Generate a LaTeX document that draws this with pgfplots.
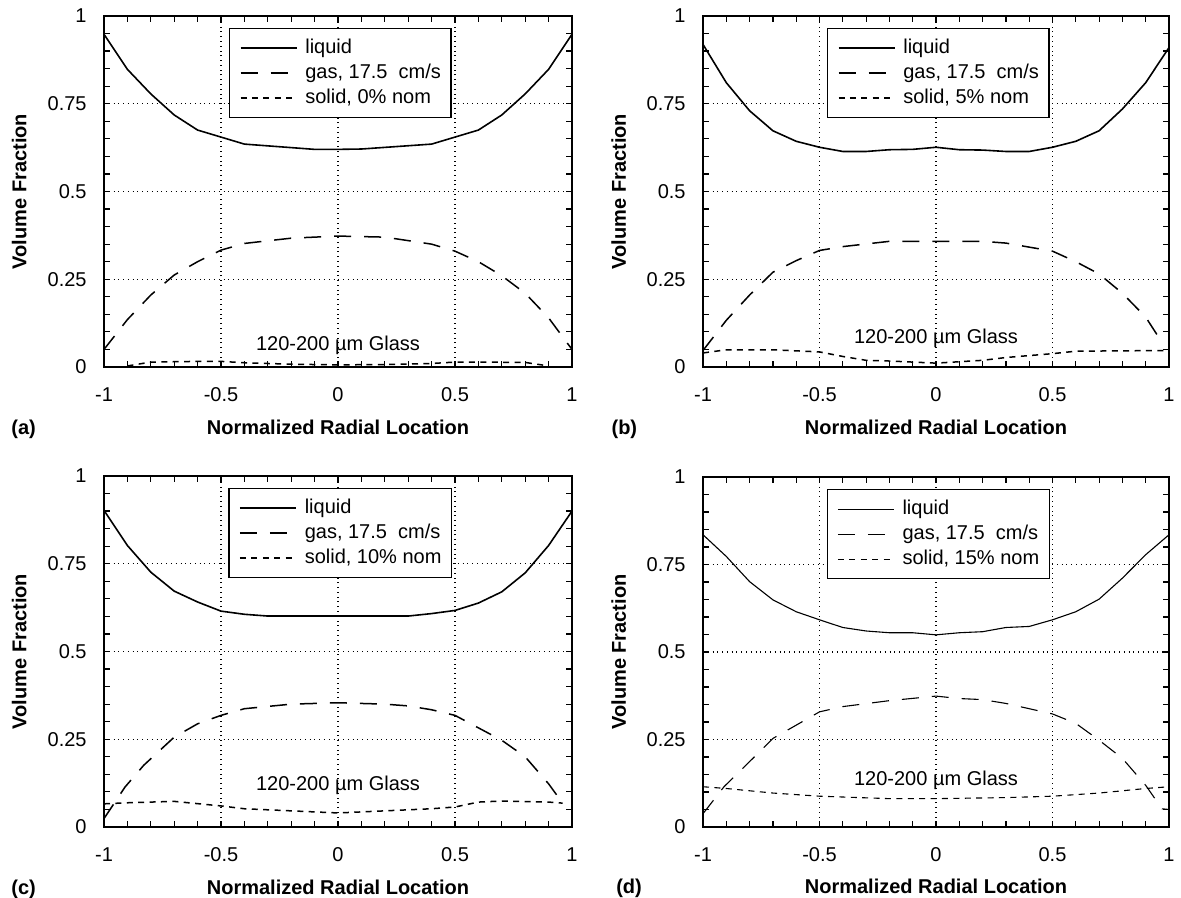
\documentclass[border=0pt]{standalone}
\usepackage{fontspec}
\setmainfont{Liberation Sans}
\usepackage{pgfplots}
\pgfplotsset{compat=1.18}
\newcommand{\fs}{\fontsize{10bp}{12bp}\selectfont}
\begin{document}
\fs
\begin{tikzpicture}
\path[use as bounding box] (0bp,0bp) rectangle (590.5bp,449bp);
\pgfplotsset{
 panel/.style={
  scale only axis, anchor=south west, clip=false,
  xmin=-1,xmax=1,ymin=0,ymax=1,
  xtick={-1,-0.5,0,0.5,1}, xticklabels={-1,-0.5,0,0.5,1},
  ytick={0,0.25,0.5,0.75,1}, yticklabels={0,0.25,0.5,0.75,1},
  minor x tick num=4, minor y tick num=4,
  tick align=inside, tick pos=both,
  major tick length=3.2bp, minor tick length=3.2bp,
  every tick/.style={black, line width=0.6bp},
  grid=major, major grid style={dotted, black, line width=0.55bp},
  axis line style={line width=0.8bp},
  xticklabel style={inner sep=0pt, anchor=north, yshift=-10bp, font=\fs},
  yticklabel style={inner sep=0pt, anchor=east, xshift=-8.5bp, font=\fs},
  xlabel={Normalized Radial Location},
  ylabel={Volume Fraction},
  xlabel style={at={(axis description cs:0.5,-0.191)}, anchor=base, inner sep=0pt, font=\fs\bfseries},
  ylabel style={at={(axis description cs:-0.1645,0.5)}, anchor=south, inner sep=0pt, font=\fs\bfseries},
  legend cell align=left,
  legend image code/.code={\draw[##1] (0bp,0bp) -- (28bp,0bp);},
  legend style={at={(rel axis cs:0.505,0.966)}, anchor=north, draw=black, line width=0.75bp, fill=white,
     inner xsep=5bp, inner ysep=5bp, row sep=3bp, column sep=4bp,
     nodes={inner sep=0pt, text height=7.3bp, text depth=2.2bp, font=\fs}},
 },
 liq/.style={black, line width=0.8bp},
 gas/.style={black, line width=0.75bp, dash pattern=on 8.5bp off 6.5bp},
 sol/.style={black, line width=0.75bp, dash pattern=on 3bp off 2.7bp},
}
% (a)
\begin{axis}[panel, at={(52bp,265.5bp)}, width=234bp, height=175.5bp]
\addplot[liq] coordinates {(-1,0.948) (-0.9,0.848) (-0.8,0.778) (-0.7,0.718) (-0.6,0.675) (-0.4,0.635) (-0.1,0.620) (0,0.620) (0.1,0.621) (0.4,0.635) (0.6,0.675) (0.7,0.718) (0.8,0.778) (0.9,0.848) (1,0.948)};
\addplot[gas] coordinates {(-1,0.050) (-0.9,0.135) (-0.8,0.205) (-0.7,0.262) (-0.6,0.300) (-0.5,0.333) (-0.4,0.352) (-0.2,0.367) (0,0.373) (0.2,0.370) (0.4,0.350) (0.5,0.330) (0.6,0.300) (0.7,0.260) (0.8,0.210) (0.9,0.140) (1,0.050)};
\addplot[sol] coordinates {(-0.9,0.003) (-0.8,0.014) (-0.6,0.016) (-0.5,0.016) (-0.4,0.012) (-0.2,0.008) (0,0.006) (0.2,0.007) (0.4,0.010) (0.5,0.014) (0.6,0.014) (0.8,0.013) (0.9,0.003)};
\legend{liquid, {gas, 17.5\ \ cm/s}, {solid, 0\% nom}}
\node at (axis cs:0,0.063) {120-200 µm Glass};
\node[anchor=base west, inner sep=0pt, font=\fs\bfseries] at (axis description cs:-0.1987,-0.191) {(a)};
\end{axis}
% (b)
\begin{axis}[panel, at={(351.5bp,265.5bp)}, width=233bp, height=175.5bp]
\addplot[liq] coordinates {(-1,0.919) (-0.9,0.810) (-0.8,0.730) (-0.7,0.673) (-0.6,0.643) (-0.5,0.626) (-0.4,0.614) (-0.3,0.614) (-0.2,0.619) (-0.1,0.620) (0,0.626) (0.1,0.619) (0.2,0.618) (0.3,0.614) (0.4,0.614) (0.5,0.626) (0.6,0.643) (0.7,0.673) (0.8,0.735) (0.9,0.810) (1,0.910)};
\addplot[gas] coordinates {(-1,0.047) (-0.9,0.133) (-0.8,0.205) (-0.7,0.270) (-0.6,0.303) (-0.5,0.332) (-0.4,0.343) (-0.2,0.358) (0,0.358) (0.2,0.358) (0.3,0.353) (0.5,0.330) (0.6,0.300) (0.7,0.265) (0.8,0.210) (0.9,0.142) (0.97,0.070)};
\addplot[sol] coordinates {(-1,0.040) (-0.9,0.049) (-0.7,0.049) (-0.5,0.043) (-0.4,0.030) (-0.3,0.019) (-0.2,0.017) (0,0.011) (0.2,0.019) (0.3,0.027) (0.5,0.038) (0.6,0.045) (0.8,0.046) (1,0.047)};
\legend{liquid, {gas, 17.5\ \ cm/s}, {solid, 5\% nom}}
\node at (axis cs:0,0.083) {120-200 µm Glass};
\node[anchor=base west, inner sep=0pt, font=\fs\bfseries] at (axis description cs:-0.197,-0.191) {(b)};
\end{axis}
% (c)
\begin{axis}[panel, at={(52bp,35.5bp)}, width=234bp, height=175.5bp]
\addplot[liq] coordinates {(-1,0.902) (-0.9,0.802) (-0.8,0.726) (-0.7,0.672) (-0.6,0.641) (-0.5,0.615) (-0.4,0.606) (-0.3,0.601) (0,0.601) (0.3,0.601) (0.4,0.608) (0.5,0.617) (0.6,0.638) (0.7,0.670) (0.8,0.724) (0.9,0.802) (1,0.900)};
\addplot[gas] coordinates {(-1,0.024) (-0.91,0.114) (-0.83,0.176) (-0.7,0.256) (-0.6,0.294) (-0.5,0.318) (-0.4,0.337) (-0.2,0.350) (0,0.354) (0.2,0.350) (0.3,0.345) (0.4,0.334) (0.5,0.318) (0.7,0.247) (0.8,0.200) (0.9,0.123) (0.96,0.068)};
\addplot[sol] coordinates {(-1,0.066) (-0.9,0.069) (-0.7,0.073) (-0.5,0.060) (-0.4,0.052) (-0.2,0.046) (0,0.040) (0.2,0.046) (0.4,0.052) (0.5,0.057) (0.6,0.071) (0.7,0.074) (0.9,0.071) (0.96,0.068)};
\legend{liquid, {gas, 17.5\ \ cm/s}, {solid, 10\% nom}}
\node at (axis cs:0,0.12) {120-200 µm Glass};
\node[anchor=base west, inner sep=0pt, font=\fs\bfseries] at (axis description cs:-0.1987,-0.191) {(c)};
\end{axis}
% (d)
\begin{axis}[panel, at={(351.5bp,35.5bp)}, width=233bp, height=175bp, axis line style={line width=1.2bp}]
\addplot[liq, line width=0.55bp] coordinates {(-1,0.835) (-0.9,0.773) (-0.8,0.701) (-0.7,0.649) (-0.6,0.615) (-0.5,0.592) (-0.4,0.570) (-0.3,0.560) (-0.2,0.555) (-0.1,0.555) (0,0.549) (0.1,0.555) (0.2,0.558) (0.3,0.570) (0.4,0.573) (0.5,0.592) (0.6,0.615) (0.7,0.651) (0.8,0.711) (0.9,0.778) (1,0.835)};
\addplot[gas, line width=0.55bp] coordinates {(-1,0.038) (-0.91,0.115) (-0.78,0.200) (-0.7,0.253) (-0.5,0.329) (-0.4,0.344) (-0.2,0.361) (0,0.374) (0.1,0.367) (0.2,0.364) (0.3,0.353) (0.5,0.323) (0.6,0.296) (0.7,0.248) (0.8,0.196) (0.9,0.119) (0.97,0.052) (1,0.050)};
\addplot[sol, line width=0.55bp] coordinates {(-1,0.115) (-0.9,0.110) (-0.7,0.097) (-0.5,0.088) (-0.2,0.081) (0,0.081) (0.3,0.084) (0.5,0.088) (0.7,0.097) (0.9,0.110) (1,0.115)};
\legend{liquid, {gas, 17.5\ \ cm/s}, {solid, 15\% nom}}
\node at (axis cs:0,0.134) {120-200 µm Glass};
\node[anchor=base west, inner sep=0pt, font=\fs\bfseries] at (axis description cs:-0.187,-0.191) {(d)};
\end{axis}
\end{tikzpicture}
\end{document}
